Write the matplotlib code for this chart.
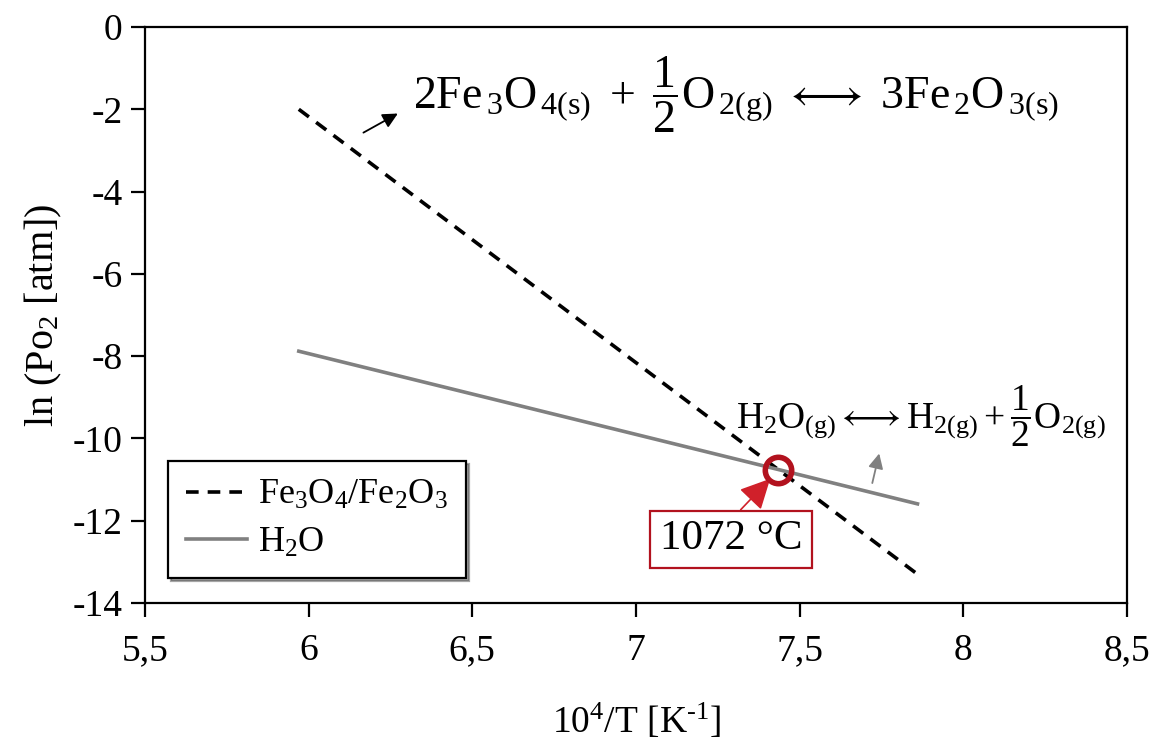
import matplotlib
matplotlib.use("Agg")
import matplotlib.pyplot as plt
from matplotlib.ticker import FixedLocator, FuncFormatter

plt.rcParams['font.family'] = ['Liberation Serif', 'DejaVu Serif']
plt.rcParams['mathtext.fontset'] = 'custom'
plt.rcParams['mathtext.rm'] = 'Liberation Serif'
plt.rcParams['mathtext.it'] = 'Liberation Serif:italic'
plt.rcParams['mathtext.bf'] = 'Liberation Serif:bold'

# Equilibrium lines: ln(pO2) vs 10^4/T
x_fe = [5.97, 7.86]
y_fe = [-2.0, -13.3]
x_h2o = [5.97, 7.86]
y_h2o = [-7.88, -11.59]

# Crossing point (1072 °C)
x_cross = 7.435
y_cross = -10.76

x_ticks = [5.5, 6.0, 6.5, 7.0, 7.5, 8.0, 8.5]
y_ticks = [0, -2, -4, -6, -8, -10, -12, -14]

RED = '#B2121E'

fig = plt.figure(figsize=(11.54, 7.44), dpi=100)
ax = fig.add_axes([0.1256, 0.1895, 0.851, 0.7742])

ax.plot(x_fe, y_fe, color='black', lw=2.6, ls=(0, (3.5, 2.5)),
        label='Fe$_3$O$_4$/Fe$_2$O$_3$')
ax.plot(x_h2o, y_h2o, color='#808080', lw=2.6, label='H$_2$O')

ax.plot([x_cross], [y_cross], marker='o', ms=19, mfc='none', mec=RED,
        mew=4, zorder=5)

ax.set_xlim(5.5, 8.5)
ax.set_ylim(-14, 0)
ax.xaxis.set_major_locator(FixedLocator(x_ticks))
ax.yaxis.set_major_locator(FixedLocator(y_ticks))
fmt = FuncFormatter(lambda v, p: ('%g' % v).replace('.', ','))
ax.xaxis.set_major_formatter(fmt)
ax.yaxis.set_major_formatter(FuncFormatter(lambda v, p: '%d' % v))
ax.tick_params(axis='both', direction='out', length=10, width=1.6,
               labelsize=27, pad=6, colors='black')
ax.tick_params(axis='x', pad=12)
for s in ax.spines.values():
    s.set_linewidth(1.6)

ax.set_xlabel(r'10$^4$/T [K$^{\text{-1}}$]', fontsize=27, labelpad=24)
ax.set_ylabel('ln (Po$_2$ [atm])', fontsize=29, labelpad=6)

leg = ax.legend(loc='lower left', bbox_to_anchor=(0.005, 0.012), fontsize=26,
                frameon=True, fancybox=False, shadow=True, handlelength=1.7,
                handletextpad=0.3, borderpad=0.5, labelspacing=0.4)
leg.get_frame().set_edgecolor('black')
leg.get_frame().set_linewidth(1.6)

# Reaction equations
ax.text(6.32, -1.65,
        r'$\mathrm{2Fe_{\,3}O_{\,4(s)}\ +\ \dfrac{1}{2}O_{\,2(g)}\ \longleftrightarrow\ 3Fe_{\,2}O_{\,3(s)}}$',
        fontsize=33, ha='left', va='center')
ax.text(7.87, -9.45,
        r'$\mathrm{H_2O_{(g)}\longleftrightarrow H_{2(g)}+\dfrac{1}{2}O_{2(g)}}$',
        fontsize=27, ha='center', va='center')

# Pointer arrows next to the lines
ax.annotate('', xy=(6.28, -2.07), xytext=(6.16, -2.6),
            arrowprops=dict(arrowstyle='-|>,head_length=0.9,head_width=0.45',
                            color='black', lw=1.3))
ax.annotate('', xy=(7.745, -10.3), xytext=(7.72, -11.15),
            arrowprops=dict(arrowstyle='-|>,head_length=0.9,head_width=0.45',
                            color='#808080', lw=1.3))

# Temperature callout
ax.annotate('1072 °C', xy=(x_cross - 0.025, y_cross - 0.22), xytext=(7.29, -12.45),
            fontsize=31, ha='center', va='center',
            bbox=dict(boxstyle='square,pad=0.22', fc='white', ec=RED, lw=1.6),
            arrowprops=dict(arrowstyle='-|>,head_length=0.6,head_width=0.3',
                            color='#D0202A', lw=1.2, shrinkA=0, shrinkB=0,
                            relpos=(0.5, 1.0)))

fig.savefig('out.png', dpi=100)
